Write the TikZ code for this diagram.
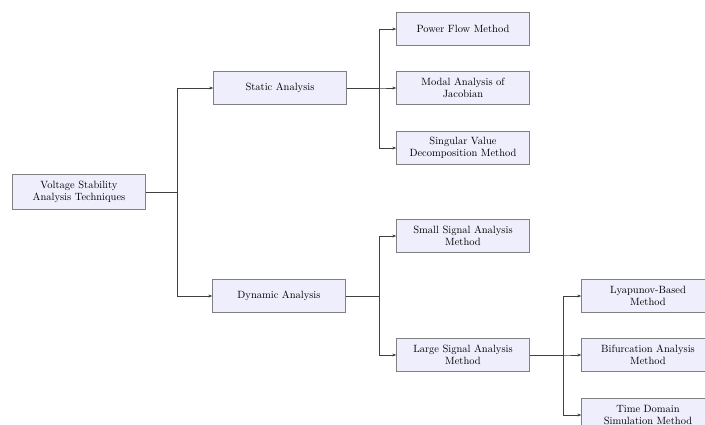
\documentclass[tikz,border=0pt]{standalone}
\usepackage{tikz}
\usetikzlibrary{positioning}
\usetikzlibrary{arrows.meta}
\definecolor{boxfill}{RGB}{238,238,252}
\tikzstyle{technique_box} = [draw = gray, fill = boxfill, minimum width = 133, minimum height = 33, align = center, inner sep = 2, font = \fontsize{10.5}{12.5}\selectfont]
\tikzstyle{technique_edge} = [draw = black!75, thin, -{Stealth[length = 4, width = 3]}]

\begin{document}
\begin{tikzpicture}[x = 1pt, y = -1pt]
        \useasboundingbox (0, 0) rectangle (705, 425);
        % level 0
        \node [style = {technique_box}, minimum height = 35] (voltage) at (79, 192) {Voltage Stability\\Analysis Techniques};
        % level 1
        \node [style = {technique_box}] (static) at (280, 88) {Static Analysis};
        \node [style = {technique_box}] (dynamic) at (279, 296) {Dynamic Analysis};
        % level 2
        \node [style = {technique_box}] (powerflow) at (463, 29) {Power Flow Method};
        \node [style = {technique_box}] (modal) at (463, 88) {Modal Analysis of\\Jacobian};
        \node [style = {technique_box}] (svd) at (463, 148) {Singular Value\\Decomposition Method};
        \node [style = {technique_box}] (smallsignal) at (463, 236) {Small Signal Analysis\\Method};
        \node [style = {technique_box}] (largesignal) at (463, 355) {Large Signal Analysis\\Method};
        % level 3
        \node [style = {technique_box}] (lyapunov) at (648, 296) {Lyapunov-Based\\Method};
        \node [style = {technique_box}] (bifurcation) at (648, 355) {Bifurcation Analysis\\Method};
        \node [style = {technique_box}] (timedomain) at (648, 415) {Time Domain\\Simulation Method};

        \foreach \child in {static, dynamic}
            \draw [style = {technique_edge}] (voltage.east) -- ++(31, 0) |- (\child.west);
        \foreach \child in {powerflow, modal, svd}
            \draw [style = {technique_edge}] (static.east) -- ++(32, 0) |- (\child.west);
        \foreach \child in {smallsignal, largesignal}
            \draw [style = {technique_edge}] (dynamic.east) -- ++(33, 0) |- (\child.west);
        \foreach \child in {lyapunov, bifurcation, timedomain}
            \draw [style = {technique_edge}] (largesignal.east) -- ++(33, 0) |- (\child.west);
    \end{tikzpicture}
\end{document}
